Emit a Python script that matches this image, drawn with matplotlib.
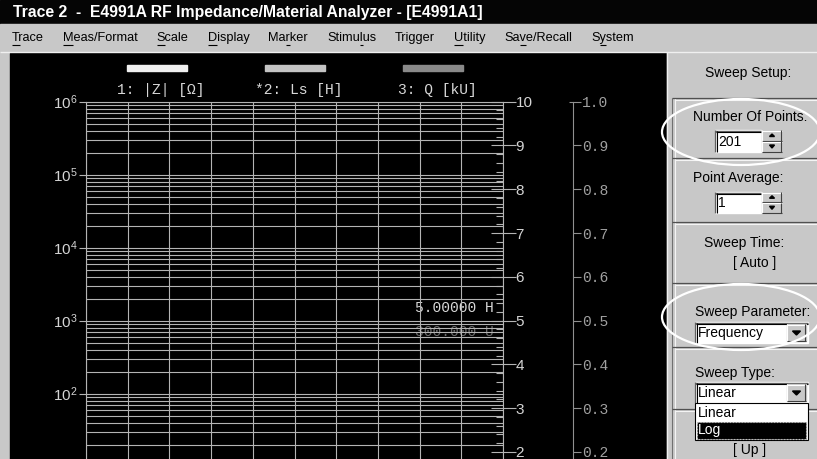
import matplotlib
matplotlib.use('Agg')
import matplotlib.pyplot as plt
from matplotlib.patches import Rectangle, Ellipse, Polygon
from matplotlib.ticker import FixedLocator, LogLocator, NullFormatter

plt.rcParams['font.family'] = ['Liberation Sans', 'DejaVu Sans']
plt.rcParams['mathtext.fontset'] = 'custom'
plt.rcParams['mathtext.rm'] = 'Liberation Sans'

W, H = 817, 459

# ---- data ----
title = 'Trace 2  -  E4991A RF Impedance/Material Analyzer - [E4991A1]'
menu_items = ['Trace', 'Meas/Format', 'Scale', 'Display', 'Marker', 'Stimulus',
              'Trigger', 'Utility', 'Save/Recall', 'System']
menu_ul = [0, 0, 0, 0, 2, 5, None, 0, 2, 1]

trace_names = ['1: |Z| [Ω]', '*2: Ls [H]', '3: Q [kU]']
trace_colors = ['#f0f0f0', '#c4c4c4', '#8a8a8a']
trace_x = [157, 295, 433]

z_decades = [0, 1, 2, 3, 4, 5, 6]
ls_ticks = [0, 1, 2, 3, 4, 5, 6, 7, 8, 9, 10]
q_ticks = [0.0, 0.1, 0.2, 0.3, 0.4, 0.5, 0.6, 0.7, 0.8, 0.9, 1.0]
x_divs = 10

marker_ls = '5.00000 H'
marker_q = '300.000 U'

n_points = '201'
point_avg = '1'
sweep_param = 'Frequency'
sweep_type = 'Linear'
sweep_type_opts = ['Linear', 'Log']

grid_c = '#b4b4b4'
panel_c = '#c8c8c8'
mono = ['Liberation Mono', 'DejaVu Sans Mono']

fig = plt.figure(figsize=(W / 100, H / 100), dpi=100)
fig.patch.set_facecolor(panel_c)

bg = fig.add_axes([0, 0, 1, 1], zorder=0)
bg.set_xlim(0, W)
bg.set_ylim(H, 0)
bg.axis('off')

def rect(x0, y0, x1, y1, **kw):
    bg.add_patch(Rectangle((x0, y0), x1 - x0, y1 - y0, **kw))

def hline(x0, x1, y, c, lw=0.8, z=2):
    bg.plot([x0, x1], [y, y], color=c, lw=lw, zorder=z, solid_capstyle='butt')

def vline(x, y0, y1, c, lw=0.8, z=2):
    bg.plot([x, x], [y0, y1], color=c, lw=lw, zorder=z, solid_capstyle='butt')

# window chrome
rect(0, 0, W, 24, color='#050505', zorder=1)
rect(0, 24, W, 51, color=panel_c, zorder=1)
hline(0, W, 51.5, '#f0f0f0', lw=1)
rect(0, 52, 10, H, color=panel_c, zorder=1)
rect(10, 53, 667, H, color='black', zorder=1)

r = fig.canvas.get_renderer()
t = bg.text(13, 13, title, color='white', fontsize=11, fontweight='bold',
            va='center', ha='left', zorder=3)
t.set_fontsize(11 * 470 / t.get_window_extent(r).width)

# menu bar: items spaced evenly between x=12 and x=634
mfs = 9.2
def text_w(s):
    tmp = bg.text(0, 0, s, fontsize=mfs)
    w = tmp.get_window_extent(r).width
    tmp.remove()
    return w

widths = [text_w(s) for s in menu_items]
gap = (634 - 12 - sum(widths)) / (len(menu_items) - 1)
x0 = 12
for name, w, ui in zip(menu_items, widths, menu_ul):
    bg.text(x0, 38, name, fontsize=mfs, va='center', ha='left', color='black', zorder=3)
    if ui is not None:
        a = text_w(name[:ui]) if ui > 0 else 0
        b = text_w(name[:ui + 1])
        hline(x0 + a, x0 + b, 44.5, 'black', lw=0.8, z=3)
    x0 += w + gap

# trace legend
for name, c, xc in zip(trace_names, trace_colors, trace_x):
    rect(xc - 30, 65, xc + 30, 71, color=c, zorder=2)
    bg.text(xc + 4, 90, name, color='#d8d8d8', fontsize=10.5, ha='center', va='center',
            family=mono, zorder=2)

bg.text(494, 308, marker_ls, color='#d8d8d8', fontsize=10.5, ha='right', va='center',
        family=mono, zorder=2)
bg.text(494, 332, marker_q, color='#6a6a6a', fontsize=10.5, ha='right', va='center',
        family=mono, zorder=2)

# ---- plot grid ----
top, bot, left, right = 101.7, 539.5, 86, 503
ax = fig.add_axes([left / W, 1 - bot / H, (right - left) / W, (bot - top) / H], zorder=2)
ax.patch.set_visible(False)
ax.set_xlim(0, x_divs)
ax.set_yscale('log')
ax.set_ylim(10 ** z_decades[0], 10 ** z_decades[-1])
ax.set_xticks(range(x_divs + 1))
ax.tick_params(axis='x', length=0, labelbottom=False)
ax.yaxis.set_major_locator(FixedLocator([10.0 ** d for d in z_decades]))
ax.yaxis.set_minor_locator(LogLocator(subs=range(2, 10), numticks=30))
ax.yaxis.set_minor_formatter(NullFormatter())
# labels only for the decades that fit in the window
ax.set_yticklabels(['$\\mathdefault{10^{%d}}$' % d if d >= 2 else '' for d in z_decades])
ax.tick_params(axis='y', which='major', length=5, width=0.8, color=grid_c,
               labelcolor='#d4d4d4', labelsize=11, pad=1)
ax.tick_params(axis='y', which='minor', length=0)
ax.grid(True, which='both', axis='y', color=grid_c, lw=0.8)
ax.grid(True, which='major', axis='x', color=grid_c, lw=0.8)
for s in ax.spines.values():
    s.set_color(grid_c)
    s.set_linewidth(0.8)

ax2 = ax.twinx()
ax2.set_ylim(ls_ticks[0], ls_ticks[-1])
ax2.set_yticks(ls_ticks)
ax2.set_yticklabels([str(v) if v >= 2 else '' for v in ls_ticks])
ax2.set_yticks([v / 5 for v in range(ls_ticks[0] * 5, ls_ticks[-1] * 5)], minor=True)
ax2.tick_params(axis='y', which='major', direction='inout', length=18, width=0.8,
                color=grid_c, labelcolor='#d4d4d4', labelsize=11, pad=0)
ax2.tick_params(axis='y', which='minor', direction='in', length=5, width=0.8, color=grid_c)
for s in ax2.spines.values():
    s.set_visible(False)

ax3 = ax.twinx()
ax3.spines['right'].set_position(('axes', (573 - left) / (right - left)))
ax3.set_ylim(q_ticks[0], q_ticks[-1])
ax3.set_yticks(q_ticks)
ax3.set_yticklabels(['%.1f' % v if v >= 0.2 else '' for v in q_ticks], family=mono)
ax3.tick_params(axis='y', direction='out', length=6, width=0.8, color='#909090',
                labelcolor='#a0a0a0', labelsize=10.5, pad=0.5)
for k, s in ax3.spines.items():
    s.set_visible(k == 'right')
ax3.spines['right'].set_color('#909090')
ax3.spines['right'].set_linewidth(0.8)
hline(569, 573, top, '#909090', lw=0.8, z=3)

# ---- right panel ----
rect(667, 52, W, H, color=panel_c, zorder=1)
vline(667.5, 52, H, '#f0f0f0', lw=1)
vline(672, 98, H, '#707070', lw=0.8)
vline(675, 98, H, '#f4f4f4', lw=0.8)
for y in [98, 158, 222, 283, 347, 409]:
    hline(672, W, y, '#505050', lw=0.9)
    hline(675, W, y + 2, '#f4f4f4', lw=0.8)

pfs = 10
bg.text(748, 73, 'Sweep Setup:', fontsize=pfs, ha='center', va='center', zorder=3)
bg.text(750, 117, 'Number Of Points:', fontsize=pfs, ha='center', va='center', zorder=3)
bg.text(693, 178, 'Point Average:', fontsize=pfs, ha='left', va='center', zorder=3)
bg.text(744, 243, 'Sweep Time:', fontsize=pfs, ha='center', va='center', zorder=3)
bg.text(755, 263, '[ Auto ]', fontsize=pfs, ha='center', va='center', zorder=3)
bg.text(695, 312, 'Sweep Parameter:', fontsize=pfs, ha='left', va='center', zorder=3)
bg.text(695, 373, 'Sweep Type:', fontsize=pfs, ha='left', va='center', zorder=3)
bg.text(750, 450, '[ Up ]', fontsize=pfs, ha='center', va='center', zorder=3)

def sunken(x0, y0, x1, y1, txt):
    rect(x0, y0, x1, y1, color='white', zorder=3)
    hline(x0, x1, y0 + 0.5, '#606060', lw=1, z=4)
    vline(x0 + 0.5, y0, y1, '#606060', lw=1, z=4)
    hline(x0 + 1, x1, y0 + 1.7, 'black', lw=0.8, z=4)
    vline(x0 + 1.7, y0 + 1, y1, 'black', lw=0.8, z=4)
    bg.text(x0 + 3, (y0 + y1) / 2 + 0.5, txt, fontsize=pfs, ha='left', va='center', zorder=5)

def button(x0, y0, x1, y1, up=None):
    rect(x0, y0, x1, y1, color=panel_c, zorder=4)
    hline(x0, x1, y0 + 0.5, 'white', lw=0.8, z=5)
    vline(x0 + 0.5, y0, y1, 'white', lw=0.8, z=5)
    hline(x0, x1, y1 - 0.5, '#404040', lw=0.8, z=5)
    vline(x1 - 0.5, y0, y1, '#404040', lw=0.8, z=5)
    xc, yc = (x0 + x1) / 2, (y0 + y1) / 2
    s = 2.5 if up is not None else 4
    if up is True:
        tri = [(xc - s, yc + 1), (xc + s, yc + 1), (xc, yc - 1.5)]
    else:
        tri = [(xc - s, yc - 1.5), (xc + s, yc - 1.5), (xc, yc + 1.5 + (0 if up is False else 1))]
    bg.add_patch(Polygon(tri, closed=True, color='black', zorder=6))

sunken(715, 130, 761, 152, n_points)
button(762, 130, 782, 141, up=True)
button(762, 141, 782, 152, up=False)
sunken(715, 192, 761, 213, point_avg)
button(762, 192, 782, 202.5, up=True)
button(762, 202.5, 782, 213, up=False)

sunken(695, 322, 808, 343, sweep_param)
button(787, 324, 806, 341)
sunken(695, 382, 808, 403, sweep_type)
button(787, 384, 806, 401)

# dropdown list
rect(695, 403, 808, 440, facecolor='white', edgecolor='black', lw=0.8, zorder=6)
bg.text(698, 413, sweep_type_opts[0], fontsize=pfs, ha='left', va='center', zorder=7)
rect(697, 422, 806, 439, facecolor='black', edgecolor='#c0c0c0', lw=0.8,
     linestyle=':', zorder=7)
bg.text(698, 430, sweep_type_opts[1], fontsize=pfs, ha='left', va='center',
        color='white', zorder=8)

# highlight ellipses
for yc in [132, 317]:
    bg.add_patch(Ellipse((741, yc), 158, 66, fill=False, edgecolor='white', lw=1.6, zorder=9))

fig.savefig('out.png', dpi=100, facecolor=fig.get_facecolor())
